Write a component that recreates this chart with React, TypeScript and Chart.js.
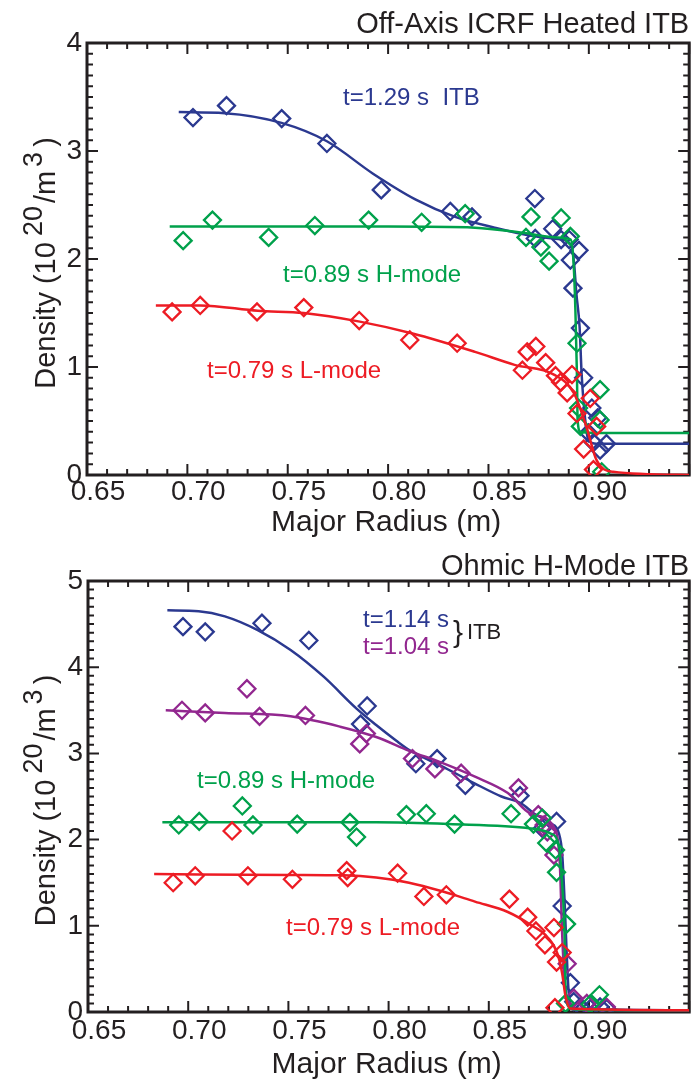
import React, { useEffect, useRef } from 'react';
import { Chart, registerables } from 'chart.js';

Chart.register(...registerables);

// ---------------- axes ----------------
const X_MIN = 0.65;
const X_MAX = 0.95;
const X_TICKS = [0.65, 0.7, 0.75, 0.8, 0.85, 0.9];
const X_TICK_LABELS = ['0.65', '0.70', '0.75', '0.80', '0.85', '0.90'];
const X_MINOR = 0.01;
const Y_MINOR = 0.1;
const TOP_Y_TICKS = [0, 1, 2, 3, 4];
const TOP_Y_LABELS = ['0', '1', '2', '3', '4'];
const BOT_Y_TICKS = [0, 1, 2, 3, 4, 5];
const BOT_Y_LABELS = ['0', '1', '2', '3', '4', '5'];
const X_TITLE = 'Major Radius (m)';

// ---------------- top panel: Off-Axis ICRF Heated ITB ----------------
const TOP_TITLE = 'Off-Axis ICRF Heated ITB';

const top129R = [0.7028, 0.7195, 0.747, 0.7695, 0.7966, 0.831, 0.8418, 0.8731, 0.882, 0.8733, 0.8862, 0.8902, 0.8951, 0.8908, 0.8921, 0.8958, 0.8974, 0.9015, 0.9044, 0.8998, 0.9088, 0.9056, 0.9023];
const top129N = [3.31, 3.42, 3.3, 3.07, 2.64, 2.44, 2.39, 2.56, 2.28, 2.19, 2.18, 2.18, 2.08, 1.99, 1.73, 1.36, 0.9, 0.62, 0.53, 0.39, 0.29, 0.23, 0.3];
const top129FitR = [0.6957, 0.7187, 0.7469, 0.7695, 0.7925, 0.8138, 0.8334, 0.8531, 0.8728, 0.8862, 0.891, 0.8925, 0.8938, 0.8954, 0.8964, 0.8982, 0.8998, 0.9038, 0.95];
const top129FitN = [3.36, 3.35, 3.26, 3.09, 2.79, 2.55, 2.39, 2.29, 2.21, 2.18, 2.13, 1.99, 1.68, 1.37, 0.94, 0.51, 0.32, 0.29, 0.29];

const top089R = [0.6979, 0.7125, 0.7405, 0.7635, 0.7903, 0.8167, 0.8384, 0.8712, 0.8862, 0.8687, 0.8761, 0.8908, 0.8802, 0.8941, 0.9056, 0.8949, 0.8958, 0.9056, 0.9064];
const top089N = [2.17, 2.36, 2.2, 2.31, 2.36, 2.34, 2.42, 2.39, 2.38, 2.2, 2.11, 2.21, 1.98, 1.22, 0.79, 0.62, 0.45, 0.51, 0.03];
const top089FitR = [0.6912, 0.75, 0.8, 0.8433, 0.8679, 0.8841, 0.891, 0.8925, 0.8933, 0.8941, 0.8944, 0.8958, 0.9023, 0.95];
const top089FitN = [2.3, 2.3, 2.3, 2.29, 2.24, 2.2, 2.18, 1.93, 1.53, 0.91, 0.51, 0.4, 0.39, 0.39];

const top079R = [0.6924, 0.7064, 0.7347, 0.758, 0.7856, 0.8108, 0.8344, 0.8669, 0.8693, 0.8736, 0.8785, 0.8834, 0.8859, 0.8916, 0.8892, 0.8941, 0.9007, 0.9039, 0.8974, 0.9023];
const top079N = [1.51, 1.57, 1.51, 1.55, 1.43, 1.25, 1.22, 0.97, 1.14, 1.19, 1.04, 0.92, 0.86, 0.93, 0.76, 0.57, 0.71, 0.45, 0.24, 0.05];
const top079FitR = [0.6843, 0.7064, 0.7351, 0.758, 0.7859, 0.8122, 0.8433, 0.863, 0.8826, 0.8925, 0.8989, 0.9038, 0.9121, 0.95];
const top079FitN = [1.57, 1.57, 1.52, 1.5, 1.42, 1.31, 1.14, 1.02, 0.93, 0.76, 0.44, 0.14, 0.03, 0.0];

// ---------------- bottom panel: Ohmic H-Mode ITB ----------------
const BOT_TITLE = 'Ohmic H-Mode ITB';

const bot114R = [0.6974, 0.7085, 0.7368, 0.7602, 0.7893, 0.786, 0.8136, 0.8242, 0.8383, 0.8656, 0.8838, 0.8767, 0.8866, 0.8907, 0.8924, 0.8957, 0.9006, 0.9088, 0.9055];
const bot114N = [4.47, 4.41, 4.51, 4.31, 3.55, 3.34, 2.88, 2.94, 2.63, 2.51, 2.21, 2.13, 1.23, 0.34, 0.12, 0.06, 0.04, 0.04, 0.06];
const bot114FitR = [0.6896, 0.7052, 0.7183, 0.7347, 0.7511, 0.7676, 0.784, 0.7938, 0.8037, 0.8103, 0.8267, 0.8431, 0.8563, 0.8661, 0.8727, 0.8809, 0.885, 0.8866, 0.8878, 0.8888, 0.8899, 0.8924, 0.95];
const bot114FitN = [4.66, 4.65, 4.59, 4.43, 4.2, 3.89, 3.52, 3.33, 3.15, 3.04, 2.85, 2.65, 2.5, 2.42, 2.3, 2.19, 2.07, 1.84, 1.3, 0.72, 0.22, 0.04, 0.02];

const bot104R = [0.6969, 0.7085, 0.7293, 0.7356, 0.7585, 0.7856, 0.7889, 0.8119, 0.8231, 0.8362, 0.8648, 0.8747, 0.8776, 0.8792, 0.8825, 0.8891, 0.8924, 0.8989, 0.9086];
const bot104N = [3.5, 3.47, 3.75, 3.43, 3.44, 3.11, 3.23, 2.94, 2.82, 2.77, 2.6, 2.29, 2.17, 2.09, 1.82, 0.56, 0.16, 0.1, 0.06];
const bot104FitR = [0.6888, 0.7183, 0.7511, 0.7758, 0.7938, 0.8103, 0.8267, 0.8431, 0.8595, 0.871, 0.8833, 0.8855, 0.8866, 0.8883, 0.8924, 0.95];
const bot104FitN = [3.5, 3.47, 3.43, 3.31, 3.19, 3.03, 2.89, 2.73, 2.54, 2.3, 2.11, 1.69, 0.91, 0.22, 0.03, 0.02];

const bot089R = [0.6953, 0.7055, 0.727, 0.7323, 0.7544, 0.7807, 0.784, 0.8089, 0.8188, 0.8329, 0.8611, 0.8723, 0.8767, 0.8789, 0.8833, 0.8838, 0.8888, 0.8883, 0.9052, 0.9006];
const bot089N = [2.17, 2.21, 2.39, 2.17, 2.18, 2.2, 2.03, 2.29, 2.3, 2.18, 2.3, 2.18, 2.25, 1.96, 1.88, 1.62, 1.02, 0.1, 0.2, 0.09];
const bot089FitR = [0.6871, 0.75, 0.7938, 0.83, 0.871, 0.8809, 0.885, 0.8866, 0.8878, 0.8883, 0.8899, 0.894, 0.95];
const bot089FitN = [2.2, 2.2, 2.2, 2.18, 2.13, 2.07, 1.92, 1.49, 0.91, 0.29, 0.06, 0.03, 0.02];

const bot079R = [0.6925, 0.7035, 0.7219, 0.7298, 0.752, 0.7791, 0.7796, 0.8045, 0.8176, 0.8288, 0.8603, 0.8694, 0.8735, 0.8825, 0.878, 0.8866, 0.8838, 0.883];
const bot079N = [1.5, 1.58, 2.1, 1.58, 1.54, 1.64, 1.56, 1.61, 1.34, 1.36, 1.31, 1.1, 0.94, 0.98, 0.78, 0.69, 0.58, 0.05];
const bot079FitR = [0.683, 0.7511, 0.7776, 0.7938, 0.8102, 0.8267, 0.8431, 0.8595, 0.871, 0.8792, 0.8842, 0.8866, 0.8883, 0.8907, 0.95];
const bot079FitN = [1.6, 1.59, 1.585, 1.56, 1.5, 1.4, 1.28, 1.16, 1.01, 0.87, 0.68, 0.45, 0.18, 0.04, 0.02];

// ---------------- styles ----------------
const INK = '#231f20';
const BLUE = '#2b3990';
const GREEN = '#00a14b';
const RED = '#ed1c24';
const PURPLE = '#92278f';
const FONT = '"Liberation Sans", Arial, Helvetica, sans-serif';
const W = 700;
const H = 542;

type Series = { color: string; r: number[]; n: number[]; fr: number[]; fn: number[] };
type Ann = { text: string; x: number; y: number; color: string; size?: number };
type PanelCfg = {
  title: string;
  yMax: number;
  yTicks: number[];
  yLabels: string[];
  padTop: number;
  yWidth: number;
  xHeight: number;
  xPad: number;
  series: Series[];
  anns: Ann[];
};

const TOP_PANEL: PanelCfg = {
  title: TOP_TITLE,
  yMax: 4,
  yTicks: TOP_Y_TICKS,
  yLabels: TOP_Y_LABELS,
  padTop: 43,
  yWidth: 87,
  xHeight: 67,
  xPad: 0,
  series: [
    { color: RED, r: top079R, n: top079N, fr: top079FitR, fn: top079FitN },
    { color: GREEN, r: top089R, n: top089N, fr: top089FitR, fn: top089FitN },
    { color: BLUE, r: top129R, n: top129N, fr: top129FitR, fn: top129FitN },
  ],
  anns: [
    { text: 't=1.29 s  ITB', x: 343, y: 98, color: BLUE },
    { text: 't=0.89 s H-mode', x: 283, y: 275, color: GREEN },
    { text: 't=0.79 s L-mode', x: 207, y: 371, color: RED },
  ],
};

const BOT_PANEL: PanelCfg = {
  title: BOT_TITLE,
  yMax: 5,
  yTicks: BOT_Y_TICKS,
  yLabels: BOT_Y_LABELS,
  padTop: 39,
  yWidth: 88,
  xHeight: 72,
  xPad: 2,
  series: [
    { color: RED, r: bot079R, n: bot079N, fr: bot079FitR, fn: bot079FitN },
    { color: GREEN, r: bot089R, n: bot089N, fr: bot089FitR, fn: bot089FitN },
    { color: PURPLE, r: bot104R, n: bot104N, fr: bot104FitR, fn: bot104FitN },
    { color: BLUE, r: bot114R, n: bot114N, fr: bot114FitR, fn: bot114FitN },
  ],
  anns: [
    { text: 't=1.14 s', x: 363, y: 78, color: BLUE },
    { text: 't=1.04 s', x: 363, y: 105, color: PURPLE },
    { text: '}', x: 453, y: 92, color: INK, size: 30 },
    { text: 'ITB', x: 467, y: 91, color: INK, size: 22 },
    { text: 't=0.89 s H-mode', x: 197, y: 239, color: GREEN },
    { text: 't=0.79 s L-mode', x: 286, y: 386, color: RED },
  ],
};

const toXY = (r: number[], n: number[]) => r.map((v, i) => ({ x: v, y: n[i] }));

function makeDecor(cfg: PanelCfg) {
  return {
    id: 'decor',
    beforeDatasetsDraw(chart: any) {
      const { ctx, chartArea } = chart;
      const { left, right, top, bottom } = chartArea;
      const xs = chart.scales.x;
      const ys = chart.scales.y;
      ctx.save();
      ctx.strokeStyle = INK;
      ctx.lineWidth = 2;
      ctx.beginPath();
      const nx = Math.round((X_MAX - X_MIN) / X_MINOR);
      for (let i = 0; i <= nx; i++) {
        const px = xs.getPixelForValue(X_MIN + i * X_MINOR);
        const len = i % 5 === 0 ? 11 : 6;
        ctx.moveTo(px, bottom);
        ctx.lineTo(px, bottom - len);
        ctx.moveTo(px, top);
        ctx.lineTo(px, top + len);
      }
      const ny = Math.round(cfg.yMax / Y_MINOR);
      for (let i = 0; i <= ny; i++) {
        const py = ys.getPixelForValue(i * Y_MINOR);
        const len = i % 10 === 0 ? 11 : 6;
        ctx.moveTo(left, py);
        ctx.lineTo(left + len, py);
        ctx.moveTo(right, py);
        ctx.lineTo(right - len, py);
      }
      ctx.stroke();
      ctx.lineWidth = 3;
      ctx.strokeRect(left, top, right - left, bottom - top);
      ctx.restore();
    },
    afterDraw(chart: any) {
      const { ctx, chartArea } = chart;
      const { left, right, top, bottom } = chartArea;
      ctx.save();
      ctx.fillStyle = INK;
      ctx.font = `29px ${FONT}`;
      ctx.textAlign = 'right';
      ctx.textBaseline = 'alphabetic';
      ctx.fillText(cfg.title, right, 33);
      ctx.font = `30px ${FONT}`;
      ctx.textAlign = 'center';
      ctx.fillText(X_TITLE, (left + right) / 2 - 2, 531);

      // y title with superscripts
      const pieces = [
        { t: 'Density (10', s: 29, dy: 0, gap: 0 },
        { t: '20', s: 27, dy: -13, gap: 6 },
        { t: '/m', s: 29, dy: 0, gap: 3 },
        { t: '3', s: 27, dy: -13, gap: 4 },
        { t: ')', s: 29, dy: 0, gap: 5 },
      ];
      let total = 0;
      for (const p of pieces) {
        ctx.font = `${p.s}px ${FONT}`;
        total += p.gap + ctx.measureText(p.t).width;
      }
      ctx.translate(55, (top + bottom) / 2 + 4);
      ctx.rotate(-Math.PI / 2);
      ctx.textAlign = 'left';
      let cx = -total / 2;
      for (const p of pieces) {
        ctx.font = `${p.s}px ${FONT}`;
        cx += p.gap;
        ctx.fillText(p.t, cx, p.dy);
        cx += ctx.measureText(p.t).width;
      }
      ctx.setTransform(1, 0, 0, 1, 0, 0);

      ctx.textAlign = 'left';
      ctx.textBaseline = 'middle';
      for (const a of cfg.anns) {
        ctx.font = `${a.size ?? 24}px ${FONT}`;
        ctx.fillStyle = a.color;
        ctx.fillText(a.text, a.x, a.y);
      }
      ctx.restore();
    },
  };
}

function buildConfig(cfg: PanelCfg): any {
  const datasets: any[] = [];
  for (const s of cfg.series) {
    datasets.push({
      data: toXY(s.fr, s.fn),
      showLine: true,
      borderColor: s.color,
      borderWidth: 2.5,
      pointRadius: 0,
      cubicInterpolationMode: 'monotone',
      fill: false,
    });
    datasets.push({
      data: toXY(s.r, s.n),
      showLine: false,
      pointStyle: 'rectRot',
      pointRadius: 8.5,
      pointBorderWidth: 2.3,
      pointBorderColor: s.color,
      pointBackgroundColor: 'rgba(0,0,0,0)',
    });
  }
  return {
    type: 'scatter',
    data: { datasets },
    plugins: [makeDecor(cfg)],
    options: {
      animation: false,
      responsive: false,
      maintainAspectRatio: false,
      devicePixelRatio: 1,
      events: [],
      layout: { padding: { top: cfg.padTop, right: 3, left: 0, bottom: 0 } },
      plugins: { legend: { display: false }, tooltip: { enabled: false }, title: { display: false } },
      scales: {
        x: {
          type: 'linear',
          min: X_MIN,
          max: X_MAX,
          grid: { display: false, drawTicks: false },
          border: { display: false },
          afterBuildTicks: (scale: any) => {
            scale.ticks = X_TICKS.map((v) => ({ value: v }));
          },
          afterFit: (scale: any) => {
            scale.height = cfg.xHeight;
          },
          ticks: {
            autoSkip: false,
            maxRotation: 0,
            padding: cfg.xPad,
            labelOffset: 11,
            color: INK,
            font: { family: FONT, size: 28 },
            callback: (_v: any, i: number) => X_TICK_LABELS[i] ?? '',
          },
        },
        y: {
          type: 'linear',
          min: 0,
          max: cfg.yMax,
          grid: { display: false, drawTicks: false },
          border: { display: false },
          afterBuildTicks: (scale: any) => {
            scale.ticks = cfg.yTicks.map((v) => ({ value: v }));
          },
          afterFit: (scale: any) => {
            scale.width = cfg.yWidth;
          },
          ticks: {
            autoSkip: false,
            padding: 5,
            color: INK,
            font: { family: FONT, size: 28 },
            callback: (_v: any, i: number) => cfg.yLabels[i] ?? '',
          },
        },
      },
    },
  };
}

function Panel({ cfg, top }: { cfg: PanelCfg; top: number }) {
  const ref = useRef<HTMLCanvasElement>(null);
  useEffect(() => {
    const chart = new Chart(ref.current as HTMLCanvasElement, buildConfig(cfg));
    return () => chart.destroy();
  }, [cfg]);
  return (
    <canvas
      ref={ref}
      width={W}
      height={H}
      style={{ position: 'absolute', left: 0, top, width: W, height: H, display: 'block' }}
    />
  );
}

export default function App() {
  return (
    <div style={{ position: 'absolute', left: 0, top: 0, width: 700, height: 1084, background: '#ffffff' }}>
      <Panel cfg={TOP_PANEL} top={0} />
      <Panel cfg={BOT_PANEL} top={542} />
    </div>
  );
}
